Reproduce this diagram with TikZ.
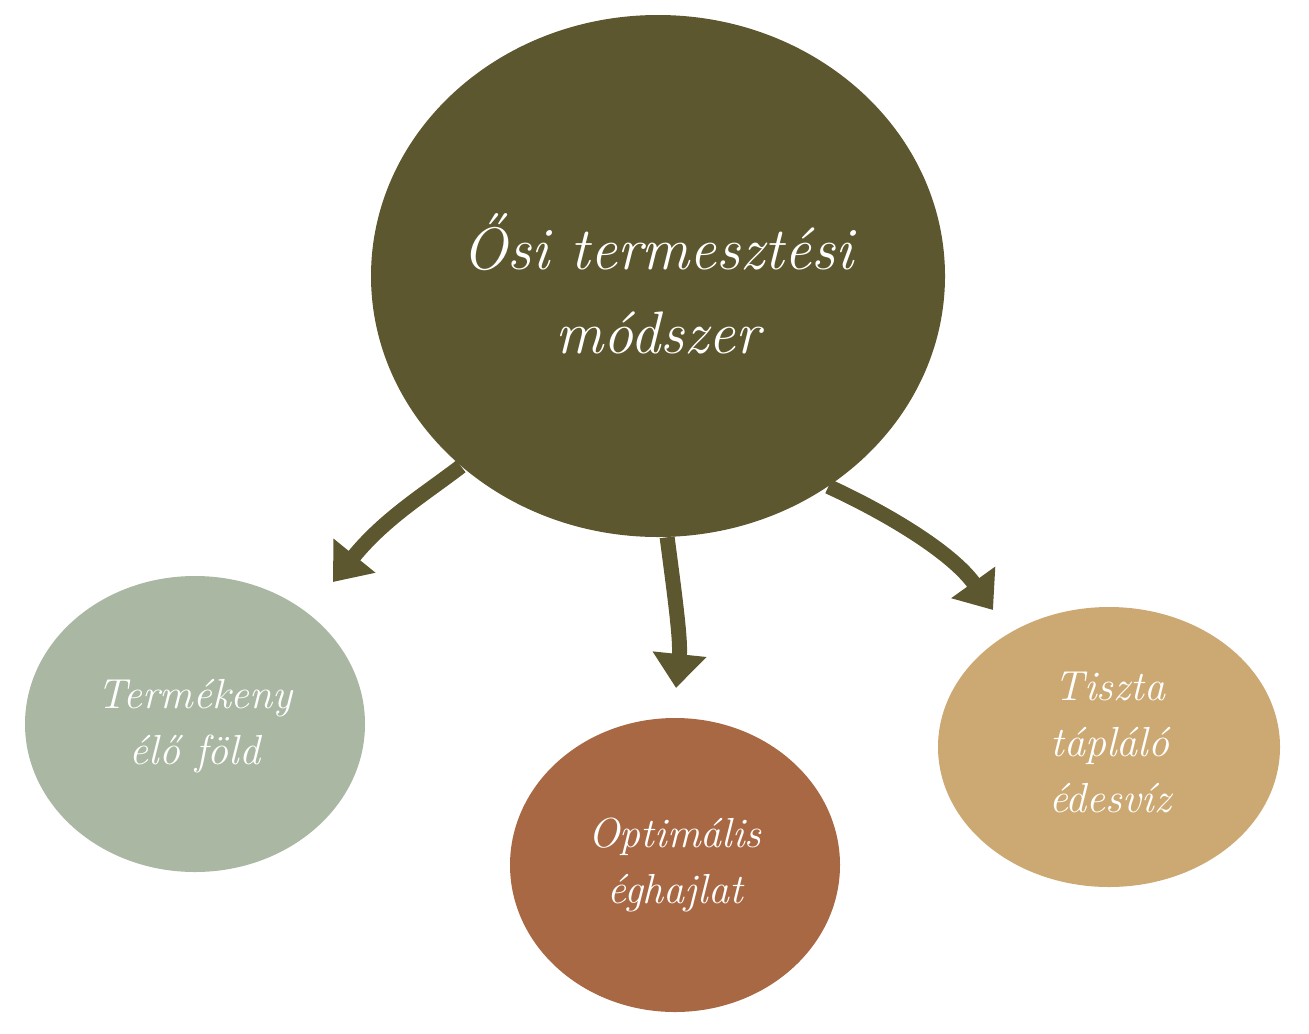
\documentclass[tikz,border=0pt]{standalone}
\usepackage{fontspec}
\usepackage{tikz}
\usetikzlibrary{arrows.meta}
\usetikzlibrary{shapes.geometric}

\definecolor{olive}{RGB}{92,87,46}
\definecolor{sage}{RGB}{170,183,163}
\definecolor{terra}{RGB}{168,104,67}
\definecolor{tan}{RGB}{204,169,115}

\tikzset{
  blob/.style={ellipse,inner sep=0pt,draw=none},
  lbl/.style={text=white,align=center,inner sep=0.75pt,font=\itshape\fontsize{21pt}{28pt}\selectfont},
  arr/.style={draw=olive,line width=7.5pt,-{Triangle[length=17pt,width=26pt]}}
}

\begin{document}
\begin{tikzpicture}[x=0.5pt,y=0.5pt,yscale=-1,xscale=1]
\useasboundingbox (0,0) rectangle (1309,1033);

%Shape: Ellipse [id:osi]
\node [blob,fill=olive,minimum width=287pt,minimum height=261pt] (osi) at (658,276) {};
%Shape: Ellipse [id:fold]
\node [blob,fill=sage,minimum width=170pt,minimum height=148pt] (fold) at (195,724) {};
%Shape: Ellipse [id:klima]
\node [blob,fill=terra,minimum width=165pt,minimum height=147pt] (klima) at (675,865) {};
%Shape: Ellipse [id:viz]
\node [blob,fill=tan,minimum width=171pt,minimum height=140pt] (viz) at (1109,747) {};

%Arrow tips
\coordinate (tipfold) at (333,582);
\coordinate (tipklima) at (676,688);
\coordinate (tipviz) at (993,610);

%Curve Lines [id:osi-fold]
\draw [arr] (osi.224) .. controls (425,494) and (385,518) .. (tipfold);
%Curve Lines [id:osi-klima]
\draw [arr] (osi.272) .. controls (674,590) and (681,640) .. (tipklima);
%Curve Lines [id:osi-viz]
\draw [arr] (osi.309) .. controls (880,510) and (950,550) .. (tipviz);

% Text Node
\node [lbl,font=\itshape\fontsize{30pt}{42pt}\selectfont] (osilbl) at (658,284) {Ősi termesztési\\módszer};
% Text Node
\node [lbl] (foldlbl) at (195,726) {Termékeny\\élő föld};
% Text Node
\node [lbl] (klimalbl) at (675,865) {Optimális\\éghajlat};
% Text Node
\node [lbl] (vizlbl) at (1110,742) {Tiszta\\tápláló\\édesvíz};

\end{tikzpicture}
\end{document}
